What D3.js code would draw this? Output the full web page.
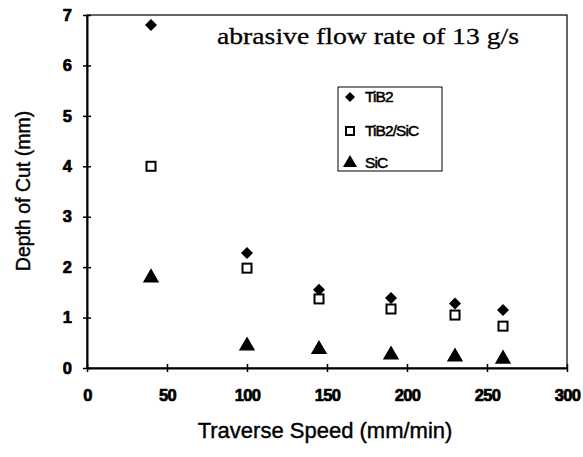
<!DOCTYPE html>
<html><head><meta charset="utf-8">
<script src="https://cdn.jsdelivr.net/npm/d3@7"></script>
<style>body{margin:0;background:#fff}</style>
</head><body>
<script>
const speeds = [40, 100, 145, 190, 230, 260];
const tib2 = [6.8, 2.28, 1.55, 1.39, 1.28, 1.15];
const tib2sic = [4.0, 1.98, 1.37, 1.17, 1.05, 0.83];
const sic = [1.79, 0.44, 0.37, 0.26, 0.22, 0.18];
const xTicks = [0, 50, 100, 150, 200, 250, 300];
const yTicks = [0, 1, 2, 3, 4, 5, 6, 7];
const seriesNames = ["TiB2", "TiB2/SiC", "SiC"];

const W = 583, H = 457;
const svg = d3.select("body").append("svg").attr("width", W).attr("height", H);
const x = d3.scaleLinear().domain([0, 300]).range([87, 567]);
const y = d3.scaleLinear().domain([0, 7]).range([368, 15]);
const FONT = "Liberation Sans, Arial, sans-serif";

// frame
svg.append("rect").attr("x", x(0)).attr("y", y(7)).attr("width", x(300) - x(0)).attr("height", y(0) - y(7))
  .attr("fill", "none").attr("stroke", "#000").attr("stroke-width", 1.2);

const xAxis = svg.append("g").attr("transform", `translate(0,${y(0)})`)
  .call(d3.axisBottom(x).tickValues(xTicks).tickFormat(d3.format("d")).tickSizeInner(4).tickSizeOuter(0).tickPadding(17));
xAxis.select(".domain").attr("stroke-width", 2.2);
xAxis.selectAll(".tick line").attr("y1", -4).attr("y2", 4).attr("stroke-width", 1.5);
xAxis.selectAll("text").style("font-family", FONT).style("font-size", "16.5px").style("font-weight", "700")
  .style("letter-spacing", "-0.6px").attr("fill", "#000").attr("stroke", "#000").attr("stroke-width", 0.7);

const yAxis = svg.append("g").attr("transform", `translate(${x(0)},0)`)
  .call(d3.axisLeft(y).tickValues(yTicks).tickFormat(d3.format("d")).tickSizeInner(4).tickSizeOuter(0).tickPadding(11));
yAxis.select(".domain").attr("stroke-width", 2);
yAxis.selectAll(".tick line").attr("x1", -4).attr("x2", 4).attr("stroke-width", 1.5);
yAxis.selectAll("text").style("font-family", FONT).style("font-size", "16.5px").style("font-weight", "700")
  .attr("fill", "#000").attr("stroke", "#000").attr("stroke-width", 0.7);

// markers
const diamond = d3.symbol().type(d3.symbolSquare).size(72);
const tri = d3.symbol().type(d3.symbolTriangle).size(115);
svg.append("g").selectAll("path").data(speeds).join("path")
  .attr("d", diamond).attr("transform", (d, i) => `translate(${x(d)},${y(tib2[i])}) rotate(45)`).attr("fill", "#000");
svg.append("g").selectAll("rect").data(speeds).join("rect")
  .attr("x", d => x(d) - 4.5).attr("y", (d, i) => y(tib2sic[i]) - 4.5).attr("width", 9).attr("height", 9)
  .attr("fill", "#fff").attr("stroke", "#000").attr("stroke-width", 2);
svg.append("g").selectAll("path").data(speeds).join("path")
  .attr("d", tri).attr("transform", (d, i) => `translate(${x(d)},${y(sic[i])})`).attr("fill", "#000");

// title annotation
svg.append("text").attr("x", 217).attr("y", 44).text("abrasive flow rate of 13 g/s")
  .attr("textLength", 302).attr("lengthAdjust", "spacingAndGlyphs")
  .style("font-family", "Liberation Serif, Times New Roman, serif").style("font-size", "24px").attr("fill", "#000")
  .attr("stroke", "#000").attr("stroke-width", 0.3);

// legend
const lg = svg.append("g");
lg.append("rect").attr("x", 338).attr("y", 87).attr("width", 104).attr("height", 84)
  .attr("fill", "#fff").attr("stroke", "#000").attr("stroke-width", 1);
const ly = [97, 131, 163];
lg.append("path").attr("d", d3.symbol().type(d3.symbolSquare).size(50)).attr("transform", `translate(350,${ly[0]}) rotate(45)`).attr("fill", "#000");
lg.append("rect").attr("x", 346).attr("y", ly[1] - 4).attr("width", 8).attr("height", 8).attr("fill", "#fff").attr("stroke", "#000").attr("stroke-width", 2);
lg.append("path").attr("d", d3.symbol().type(d3.symbolTriangle).size(85)).attr("transform", `translate(350,${ly[2]})`).attr("fill", "#000");
lg.selectAll("text").data(seriesNames).join("text")
  .attr("x", 365).attr("y", (d, i) => ly[i] + 5).text(d => d)
  .style("font-family", FONT).style("font-size", "15.5px").style("letter-spacing", "-0.9px").attr("fill", "#000")
  .attr("stroke", "#000").attr("stroke-width", 0.5);

// axis titles
svg.append("text").attr("x", 325).attr("y", 438).attr("text-anchor", "middle").text("Traverse Speed (mm/min)")
  .style("font-family", FONT).style("font-size", "22px").attr("fill", "#000").attr("stroke", "#000").attr("stroke-width", 0.4);
svg.append("text").attr("transform", "translate(30,191) rotate(-90)").attr("text-anchor", "middle").text("Depth of Cut (mm)")
  .style("font-family", FONT).style("font-size", "19.5px").attr("fill", "#000").attr("stroke", "#000").attr("stroke-width", 0.4);
</script>
</body></html>
